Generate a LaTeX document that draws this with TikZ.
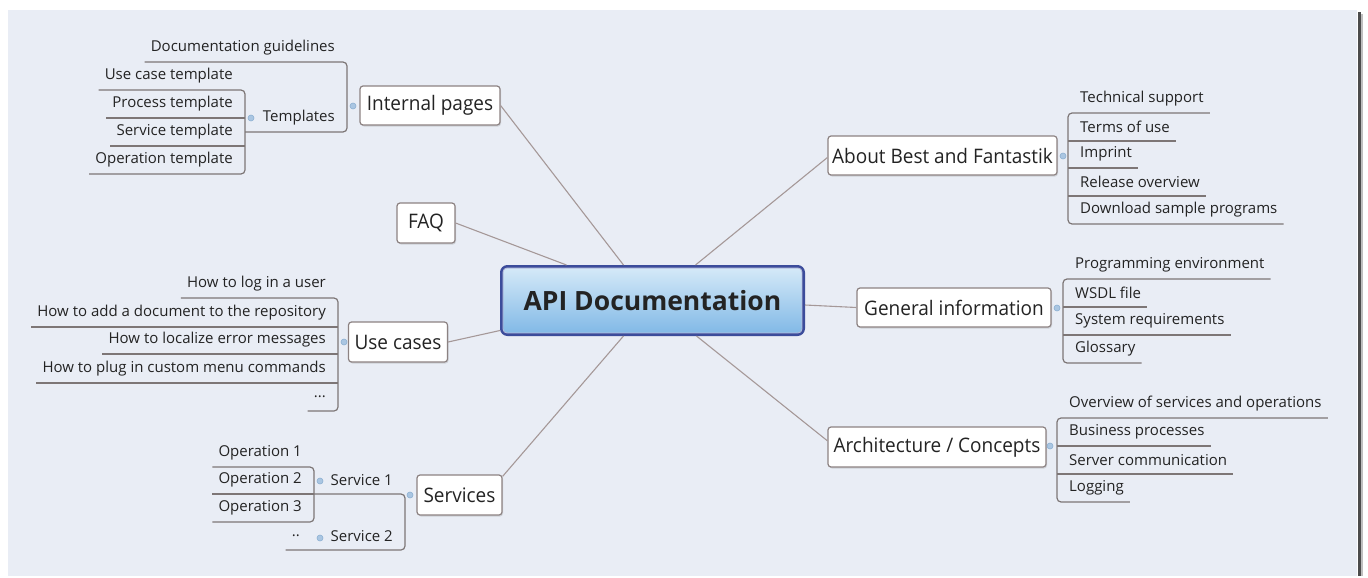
\documentclass[tikz,border=0pt]{standalone}
\usepackage{fontspec}
\setmainfont{Open Sans}
\newfontfamily\topicfont[FakeStretch=0.95]{Open Sans}
\usetikzlibrary{calc,shadows}
\definecolor{bg}{RGB}{233,237,245}
\definecolor{conn}{RGB}{165,152,152}
\definecolor{uln}{RGB}{125,118,118}
\definecolor{boxb}{RGB}{140,130,130}
\definecolor{txt}{RGB}{35,35,35}
\definecolor{apib}{RGB}{60,76,155}
\definecolor{apitop}{RGB}{214,234,248}
\definecolor{apibot}{RGB}{128,184,230}
\definecolor{dotf}{RGB}{170,198,226}
\definecolor{dotd}{RGB}{140,175,210}
\tikzset{
 subl/.style={anchor=east, inner xsep=6pt, inner ysep=1pt, font=\fontsize{15}{18}\selectfont, text=txt},
 subr/.style={subl, anchor=west},
 topic/.style={draw=boxb, line width=1.2pt, fill=white, rounded corners=3pt, font=\topicfont\fontsize{20}{24}\selectfont, text=txt, inner sep=0pt, drop shadow={shadow xshift=1pt, shadow yshift=-1.5pt, opacity=0.25}},
 uline/.style={draw=uln, line width=1.2pt},
 bracket/.style={uline, rounded corners=4pt},
 conline/.style={draw=conn, line width=1.1pt},
 knob/.style={circle, fill=dotf, draw=dotd, line width=0.6pt, inner sep=0pt, minimum size=6pt},
}
\begin{document}
\begin{tikzpicture}[x=1pt,y=-1pt]
\useasboundingbox (0,0) rectangle (1368,578);
\fill[bg] (8,10) rectangle (1357,576);
\fill[black!25] (1361,14) rectangle (1363,576);
\fill[black!70] (1357.5,12) rectangle (1361,576);

% central topic
\node[draw=apib, line width=3pt, rounded corners=6pt, top color=apitop, bottom color=apibot, minimum width=302pt, minimum height=68pt, inner sep=0pt, font=\fontsize{26.5}{30}\selectfont\bfseries, text=txt] (api) at (652.5,300.5) {API Documentation};
\draw[draw=white!65!apib, line width=0.8pt, rounded corners=4pt] ($(api.north west)+(3,3)$) rectangle ($(api.south east)+(-3,-3)$);

% main topics
\node[topic, minimum width=140pt, minimum height=39pt] (ip) at (430,105.5) {Internal pages};
\node[topic, minimum width=58pt, minimum height=40pt] (faq) at (426,223) {FAQ};
\node[topic, minimum width=99pt, minimum height=40pt] (uc) at (398,342) {Use cases};
\node[topic, minimum width=85pt, minimum height=40pt] (sv) at (459.5,495) {Services};
\node[topic, minimum width=229pt, minimum height=39pt] (ab) at (942.5,155.5) {About Best and Fantastik};
\node[topic, minimum width=194pt, minimum height=39pt] (gi) at (954,307.5) {General information};
\node[topic, minimum width=218pt, minimum height=40pt] (ar) at (937,447) {Architecture / Concepts};

% connectors
\draw[conline] (ip.east) -- ($(api.north west)+(123.5,0)$);
\draw[conline] (faq.east) -- ($(api.north west)+(66.5,0)$);
\draw[conline] (uc.east) -- ($(api.west)+(0,30)$);
\draw[conline] ($(sv.north east)+(0,2)$) -- ($(api.south west)+(123.5,0)$);
\draw[conline] ($(ab.west)+(0,2)$) -- ($(api.north west)+(195.5,0)$);
\draw[conline] (gi.west) -- ($(api.east)+(0,4.5)$);
\draw[conline] ($(ar.north west)!0.35!(ar.south west)$) -- ($(api.south west)+(196.5,0)$);

% ---------- Internal pages ----------
\coordinate (ipX) at (347,0);
\coordinate (tpX) at (245,0);
\node[subl] (docg) at (341,48) {Documentation guidelines};
\node[subl] (tmpl) at (341,118) {Templates};
\node[subl] (t1) at (239,76) {Use case template};
\node[subl] (t2) at (239,104) {Process template};
\node[subl] (t3) at (239,132) {Service template};
\node[subl] (t4) at (239,160) {Operation template};
\foreach \n in {docg,tmpl,t1,t2,t3,t4} \coordinate (u-\n) at ($(\n.west)+(0,14)$);
\draw[bracket] (u-docg) -- (u-docg -| ipX) -- (u-tmpl -| ipX) -- (u-tmpl -| tpX);
\draw[bracket] (u-t1) -- (u-t1 -| tpX) -- (u-t4 -| tpX) -- (u-t4);
\foreach \n in {t2,t3} \draw[uline] (u-\n) -- (u-\n -| tpX);
\node[knob] (k1) at (353,106) {};
\node[knob] (k2) at (251,118) {};

% ---------- Use cases ----------
\coordinate (ucX) at (338,0);
\node[subl] (c1) at (332,284) {How to log in a user};
\node[subl] (c2) at (332,313) {How to add a document to the repository};
\node[subl] (c3) at (332,340) {How to localize error messages};
\node[subl] (c4) at (332,369) {How to plug in custom menu commands};
\node[subl] (c5) at (332,397) {...};
\foreach \n in {c1,c2,c3,c4,c5} \coordinate (u-\n) at ($(\n.west)+(0,14)$);
\draw[bracket] (u-c1) -- (u-c1 -| ucX) -- (u-c5 -| ucX) -- (u-c5);
\foreach \n in {c2,c3,c4} \draw[uline] (u-\n) -- (u-\n -| ucX);
\node[knob] (k3) at (344,342) {};

% ---------- Services ----------
\coordinate (svX) at (405,0);
\coordinate (opX) at (314,0);
\node[subl] (s1) at (399,480) {Service 1};
\node[subl] (s2) at (399,536) {Service 2};
\node[subl] (o1) at (308,453) {Operation 1};
\node[subl] (o2) at (308,480) {Operation 2};
\node[subl] (o3) at (308,508) {Operation 3};
\node[subl] (dd) at (306,536) {..};
\foreach \n in {s1,s2,o1,o2,o3,dd} \coordinate (u-\n) at ($(\n.west)+(0,14)$);
\draw[bracket] (u-s1 -| opX) -- (u-s1 -| svX) -- (u-s2 -| svX) -- (u-dd);
\draw[bracket] (u-o1) -- (u-o1 -| opX) -- (u-o3 -| opX) -- (u-o3);
\draw[uline] (u-o2) -- (u-o2 -| opX);
\node[knob] (k4) at (410,495) {};
\node[knob] (k5) at (320,481) {};
\node[knob] (k6) at (320,538) {};

% ---------- About Best and Fantastik ----------
\coordinate (abX) at (1068,0);
\node[subr] (a1) at (1074,99) {Technical support};
\node[subr] (a2) at (1074,127) {Terms of use};
\node[subr] (a3) at (1074,154) {Imprint};
\node[subr] (a4) at (1074,182) {Release overview};
\node[subr] (a5) at (1074,210) {Download sample programs};
\foreach \n in {a1,a2,a3,a4,a5} \coordinate (u-\n) at ($(\n.east)+(0,14)$);
\draw[bracket] (u-a1) -- (u-a1 -| abX) -- (u-a5 -| abX) -- (u-a5);
\foreach \n in {a2,a3,a4} \draw[uline] (u-\n -| abX) -- (u-\n);
\node[knob] (k7) at (1063,156) {};

% ---------- General information ----------
\coordinate (giX) at (1063,0);
\node[subr] (g1) at (1069,265) {Programming environment};
\node[subr] (g2) at (1069,293) {WSDL file};
\node[subr] (g3) at (1069,321) {System requirements};
\node[subr] (g4) at (1069,349) {Glossary};
\foreach \n in {g1,g2,g3,g4} \coordinate (u-\n) at ($(\n.east)+(0,14)$);
\draw[bracket] (u-g1) -- (u-g1 -| giX) -- (u-g4 -| giX) -- (u-g4);
\foreach \n in {g2,g3} \draw[uline] (u-\n -| giX) -- (u-\n);
\node[knob] (k8) at (1057,308) {};

% ---------- Architecture / Concepts ----------
\coordinate (arX) at (1057,0);
\node[subr] (r1) at (1063,404) {Overview of services and operations};
\node[subr] (r2) at (1063,432) {Business processes};
\node[subr] (r3) at (1063,460) {Server communication};
\node[subr] (r4) at (1063,488) {Logging};
\foreach \n in {r1,r2,r3,r4} \coordinate (u-\n) at ($(\n.east)+(0,14)$);
\draw[bracket] (u-r1) -- (u-r1 -| arX) -- (u-r4 -| arX) -- (u-r4);
\foreach \n in {r2,r3} \draw[uline] (u-\n -| arX) -- (u-\n);
\node[knob] (k9) at (1050,446) {};
\end{tikzpicture}
\end{document}
